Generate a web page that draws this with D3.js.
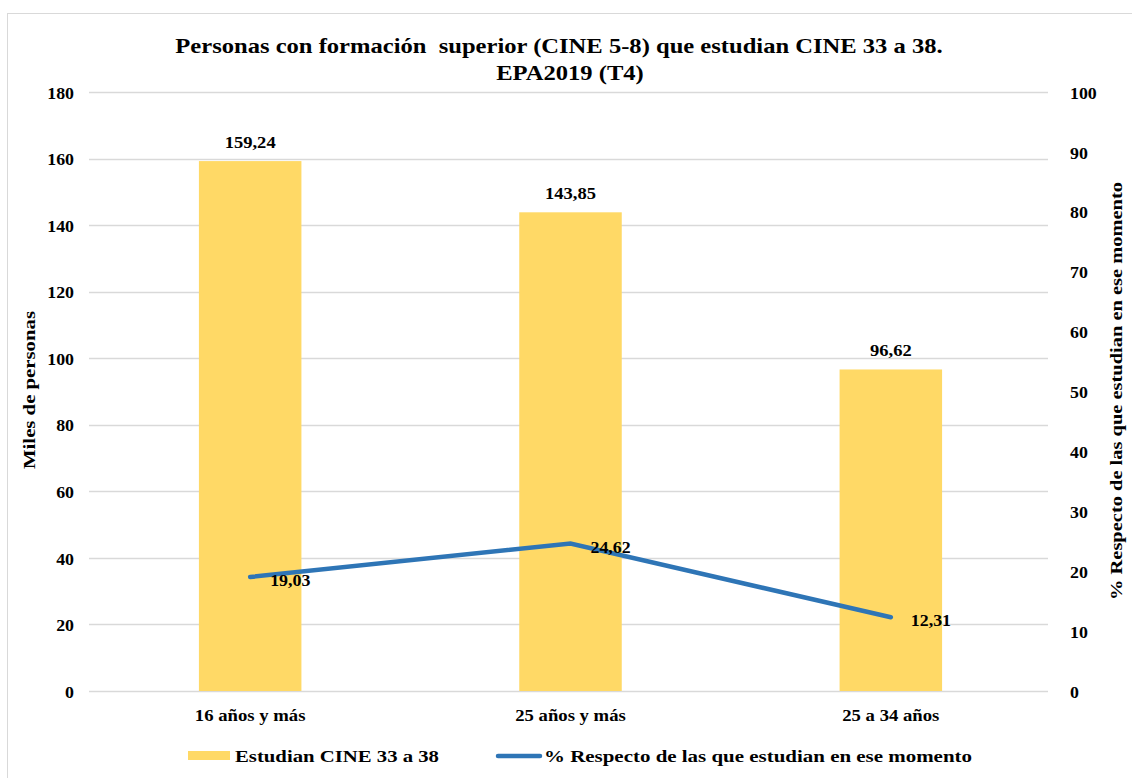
<!DOCTYPE html>
<html>
  <head>
    <meta charset="utf-8">
    <script src="https://d3js.org/d3.v7.min.js"></script>
    <style>
      body { margin: 0; background: #fff; }
      text { font-family: "Liberation Serif", "Times New Roman", serif; font-weight: bold; fill: #000; white-space: pre; }
    </style>
  </head>
  <body>
    <div id="container"></div>

    <script type="text/javascript">
      // Data
      var categories = ["16 años y más", "25 años y más", "25 a 34 años"];
      var estudian = [159.24, 143.85, 96.62];
      var porcentaje = [19.03, 24.62, 12.31];
      var leftTicks = [0, 20, 40, 60, 80, 100, 120, 140, 160, 180];
      var rightTicks = [0, 10, 20, 30, 40, 50, 60, 70, 80, 90, 100];

      var width = 1132,
          height = 778;
      var plot = { left: 89, right: 1048, top: 92, bottom: 691 };

      function fmt(v) { return v.toFixed(2).replace(".", ","); }

      // The reference font is drawn a bit wider than Liberation Serif,
      // so widen each text by a factor
      function stretch(sel, factor) {
        sel.each(function() {
          var w = this.getComputedTextLength();
          d3.select(this)
            .attr("textLength", w * factor)
            .attr("lengthAdjust", "spacingAndGlyphs");
        });
      }

      var svg = d3.select("#container").append("svg")
        .attr("width", width)
        .attr("height", height);

      // chart border
      svg.append("rect")
        .attr("x", 7.5).attr("y", 13.5)
        .attr("width", 1140).attr("height", 780)
        .attr("fill", "none")
        .attr("stroke", "#d9d9d9");

      var x = d3.scaleBand()
        .domain(categories)
        .range([plot.left + 1, plot.right + 3])
        .paddingInner(0.68)
        .paddingOuter(0.34);

      var y = d3.scaleLinear().domain([0, 180]).range([plot.bottom, plot.top]);
      var y2 = d3.scaleLinear().domain([0, 100]).range([plot.bottom, plot.top]);

      // gridlines
      svg.append("g")
        .selectAll("line")
        .data(leftTicks)
        .enter().append("line")
          .attr("x1", plot.left).attr("x2", plot.right)
          .attr("y1", function(d) { return Math.round(y(d)) + 0.5; })
          .attr("y2", function(d) { return Math.round(y(d)) + 0.5; })
          .attr("stroke", "#d9d9d9")
          .attr("stroke-width", 1.3);

      // left axis
      var leftAxis = svg.append("g")
        .attr("transform", "translate(" + (plot.left - 15) + ",0)")
        .call(d3.axisLeft(y).tickValues(leftTicks).tickSize(0).tickPadding(0));
      leftAxis.select(".domain").remove();
      leftAxis.selectAll("text")
        .style("font-size", "17px")
        .attr("dy", "0.36em")
        .call(stretch, 1.05);

      // right axis
      var rightAxis = svg.append("g")
        .attr("transform", "translate(" + (plot.right + 22) + ",0)")
        .call(d3.axisRight(y2).tickValues(rightTicks).tickSize(0).tickPadding(0));
      rightAxis.select(".domain").remove();
      rightAxis.selectAll("text")
        .style("font-size", "17px")
        .attr("dy", "0.36em")
        .call(stretch, 1.05);

      // bars
      svg.append("g")
        .selectAll("rect")
        .data(estudian)
        .enter().append("rect")
          .attr("x", function(d, i) { return x(categories[i]); })
          .attr("y", function(d) { return y(d); })
          .attr("width", x.bandwidth())
          .attr("height", function(d) { return plot.bottom - y(d); })
          .attr("fill", "#ffd966");

      // bar labels
      svg.append("g")
        .selectAll("text")
        .data(estudian)
        .enter().append("text")
          .attr("x", function(d, i) { return x(categories[i]) + x.bandwidth() / 2; })
          .attr("y", function(d) { return y(d) - 13; })
          .attr("text-anchor", "middle")
          .style("font-size", "17px")
          .text(fmt)
          .call(stretch, 1.09);

      // category labels
      svg.append("g")
        .selectAll("text")
        .data(categories)
        .enter().append("text")
          .attr("x", function(d) { return x(d) + x.bandwidth() / 2; })
          .attr("y", 721)
          .attr("text-anchor", "middle")
          .style("font-size", "17px")
          .text(function(d) { return d; })
          .call(stretch, 1.1);

      // line
      var line = d3.line()
        .x(function(d, i) { return x(categories[i]) + x.bandwidth() / 2; })
        .y(function(d) { return y2(d); });

      svg.append("path")
        .datum(porcentaje)
        .attr("d", line)
        .attr("fill", "none")
        .attr("stroke", "#2e75b6")
        .attr("stroke-width", 4.5)
        .attr("stroke-linecap", "round");

      svg.append("g")
        .selectAll("text")
        .data(porcentaje)
        .enter().append("text")
          .attr("x", function(d, i) { return x(categories[i]) + x.bandwidth() / 2 + 20; })
          .attr("y", function(d) { return y2(d) + 9; })
          .style("font-size", "17px")
          .text(fmt)
          .call(stretch, 1.05);

      // title
      svg.append("text")
        .attr("x", 559).attr("y", 53)
        .attr("text-anchor", "middle")
        .style("font-size", "21px")
        .text("Personas con formación  superior (CINE 5-8) que estudian CINE 33 a 38.")
        .call(stretch, 1.17);
      svg.append("text")
        .attr("x", 570).attr("y", 80)
        .attr("text-anchor", "middle")
        .style("font-size", "21px")
        .text("EPA2019 (T4)")
        .call(stretch, 1.17);

      // axis titles
      svg.append("text")
        .attr("transform", "translate(35,390) rotate(-90)")
        .attr("text-anchor", "middle")
        .style("font-size", "17px")
        .text("Miles de personas")
        .attr("textLength", 158)
        .attr("lengthAdjust", "spacingAndGlyphs");

      svg.append("text")
        .attr("transform", "translate(1122,391) rotate(-90)")
        .attr("text-anchor", "middle")
        .style("font-size", "17px")
        .text("% Respecto de las que estudian en ese momento")
        .attr("textLength", 418)
        .attr("lengthAdjust", "spacingAndGlyphs");

      // legend
      var legend = svg.append("g");
      legend.append("rect")
        .attr("x", 188).attr("y", 751)
        .attr("width", 42).attr("height", 9)
        .attr("fill", "#ffd966");
      legend.append("text")
        .attr("x", 235).attr("y", 762)
        .style("font-size", "17px")
        .text("Estudian CINE 33 a 38")
        .attr("textLength", 204)
        .attr("lengthAdjust", "spacingAndGlyphs");
      legend.append("line")
        .attr("x1", 498).attr("x2", 540)
        .attr("y1", 756).attr("y2", 756)
        .attr("stroke", "#2e75b6")
        .attr("stroke-width", 4.5)
        .attr("stroke-linecap", "round");
      legend.append("text")
        .attr("x", 544).attr("y", 762)
        .style("font-size", "17px")
        .text("% Respecto de las que estudian en ese momento")
        .attr("textLength", 428)
        .attr("lengthAdjust", "spacingAndGlyphs");
    </script>
  </body>
</html>
